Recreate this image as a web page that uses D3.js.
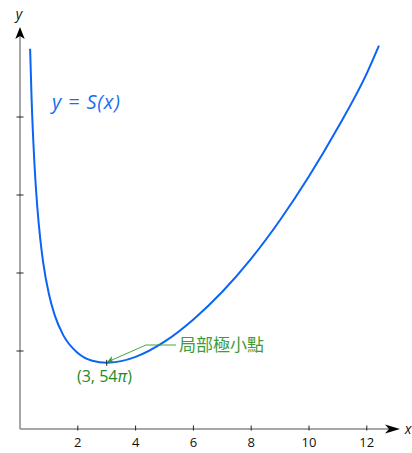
<!DOCTYPE html>
<html><head><meta charset="utf-8">
<script src="https://cdn.jsdelivr.net/npm/d3@7"></script>
<style>body{margin:0;background:#fff}svg{display:block}</style>
</head><body>
<svg id="c" width="412" height="453"></svg>
<script>
const xs = [0.35,0.4,0.5,0.6,0.7,0.8,1.0,1.2,1.5,2,2.5,3,3.5,4,5,6,7,8,9,10,11,12,12.42];
const ys = [975,849,680,568,488,428,346,292,240,195,175,169.6,174,185,224,281,352,437,536,648,773,912,983];
const xTicks = [2,4,6,8,10,12];
const yTicks = [200,400,600,800];
const minPoint = {x:3, y:169.6, label:"(3, 54", pi:"π", close:")"};
const annot = "局部極小點";

const svg = d3.select("#c");
const x = d3.scaleLinear().domain([0,13]).range([20, 20+28.9*13]);
const y = d3.scaleLinear().domain([0,1000]).range([429, 39]);

const defs = svg.append("defs");
defs.append("marker").attr("id","ga").attr("viewBox","0 0 10 10").attr("refX",9).attr("refY",5)
  .attr("markerWidth",7).attr("markerHeight",7).attr("orient","auto-start-reverse").attr("markerUnits","userSpaceOnUse")
  .append("path").attr("d","M0,0 L10,5 L0,10 L3,5 Z").attr("fill","#2f9a2f");

// axes lines
svg.append("line").attr("x1",x(0)).attr("x2",x(0)).attr("y1",y(0)).attr("y2",36).attr("stroke","#8a8a8a").attr("stroke-width",1.5);
svg.append("line").attr("x1",x(0)).attr("x2",392).attr("y1",y(0)).attr("y2",y(0)).attr("stroke","#8a8a8a").attr("stroke-width",1.5);
// arrowheads
svg.append("path").attr("d",`M${x(0)},27 L${x(0)+4.7},39 L${x(0)},36 L${x(0)-4.7},39 Z`).attr("fill","#000");
svg.append("path").attr("d",`M400,${y(0)} L385,${y(0)-4.5} L389,${y(0)} L385,${y(0)+4.5} Z`).attr("fill","#000");

// ticks
const xa = svg.append("g");
xTicks.forEach(t=>{
  xa.append("line").attr("x1",x(t)).attr("x2",x(t)).attr("y1",y(0)-3.5).attr("y2",y(0)+1.5).attr("stroke","#222").attr("stroke-width",1);
  xa.append("text").attr("x",x(t)).attr("y",y(0)+18).attr("text-anchor","middle")
    .attr("font-family","Open Sans, sans-serif").attr("font-size",13).attr("fill","#111").text(t);
});
yTicks.forEach(t=>{
  svg.append("line").attr("x1",x(0)-3.5).attr("x2",x(0)+3.5).attr("y1",y(t)).attr("y2",y(t)).attr("stroke","#222").attr("stroke-width",1);
});
svg.append("text").attr("x",19).attr("y",19).attr("text-anchor","middle").attr("font-family","Open Sans, sans-serif")
  .attr("font-style","italic").attr("font-size",14).attr("fill","#111").text("y");
svg.append("text").attr("x",408).attr("y",y(0)+5).attr("text-anchor","middle").attr("font-family","Open Sans, sans-serif")
  .attr("font-style","italic").attr("font-size",14).attr("fill","#111").text("x");

// curve
const pts = xs.map((v,i)=>[v,ys[i]]);
svg.append("path").datum(pts).attr("fill","none").attr("stroke","#0a64f5").attr("stroke-width",2)
  .attr("d", d3.line().x(d=>x(d[0])).y(d=>y(d[1])).curve(d3.curveMonotoneX));

svg.append("text").attr("x",52).attr("y",109).attr("font-family","Open Sans, sans-serif").attr("font-style","italic")
  .attr("font-size",20).attr("fill","#1a6ff0").attr("textLength",68).attr("lengthAdjust","spacing").text("y = S(x)");

// min marker
const mx = x(minPoint.x), my = y(minPoint.y);
svg.append("line").attr("x1",mx).attr("x2",mx).attr("y1",my-3).attr("y2",my+3).attr("stroke","#222").attr("stroke-width",1);
// leader
svg.append("path").attr("d",`M176,345 L146,345 L${mx+1},${my-1}`).attr("fill","none").attr("stroke","#2f9a2f")
  .attr("stroke-width",0.9).attr("marker-end","url(#ga)");
svg.append("text").attr("x",179).attr("y",351).attr("font-family","Noto Sans CJK TC, sans-serif").attr("font-size",17)
  .attr("fill","#3c9c3c").text(annot);
const lt = svg.append("text").attr("x",77).attr("y",382).attr("font-family","Open Sans, sans-serif").attr("font-size",16).attr("fill","#1f8a1f");
lt.append("tspan").text(minPoint.label);
lt.append("tspan").attr("font-style","italic").text(minPoint.pi);
lt.append("tspan").text(minPoint.close);
</script>
</body></html>
